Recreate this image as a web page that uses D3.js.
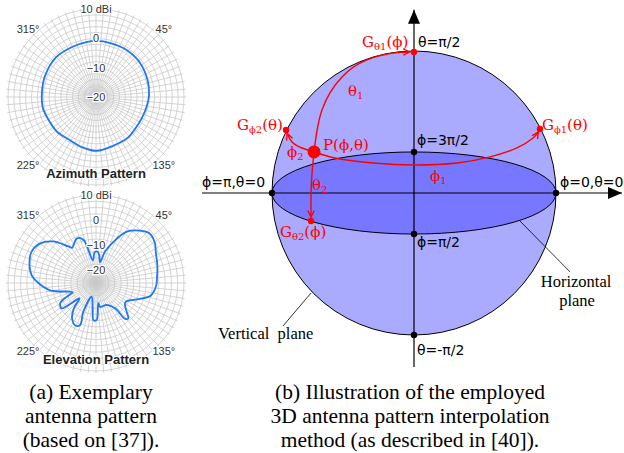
<!DOCTYPE html>
<html>
<head>
<meta charset="utf-8">
<script src="https://cdn.jsdelivr.net/npm/d3@7"></script>
<style>
  body { margin: 0; background: #fff; }
  svg { display: block; }
</style>
</head>
<body>
<svg id="fig" width="624" height="453"></svg>
<script>
// ---- (a) antenna pattern data: angle (deg, clockwise from top) / gain (dBi)
const azimuthAngles = [0, 15, 33, 52, 72, 88, 100, 115, 130, 141, 160, 179, 195, 213, 228, 242, 258, 275, 292, 315, 335, 350];
const azimuthGain   = [-0.9, -1.0, -0.9, -1.0, -1.5, -1.9, -2.4, -2.8, -2.8, -2.4, -2.4, -1.6, -2.2, -2.8, -2.2, -2.1, -1.5, -1.5, -1.2, -0.8, -1.1, -1.0];

const elevationAngles = [1, 6, 11, 16, 23, 31, 40, 47, 56, 62, 75, 83, 92, 100, 104, 110, 114, 119, 124, 130, 135, 138, 141, 143, 154, 170, 173.5, 179, 184, 187.5, 197.6, 203.8, 200.8, 206, 214, 221, 227, 233.6, 241, 246, 248.2, 261, 270, 277, 288, 296, 305, 314, 323, 326, 331, 337, 344, 352, 357];
const elevationGain   = [-12.3, -13.5, -16.6, -12, -7.2, -1.2, 2.2, 4.0, 3.3, 1.9, 0.3, -0.5, -1.0, -2.0, -3.0, -6.5, -8.5, -10.5, -11, -9.7, -7.2, -5.9, -6.8, -12.4, -15.3, -15.4, -16.9, -10.3, -10.2, -14.8, -19.3, -12.5, -7.1, -6.2, -8, -11.5, -16, -8.0, -8.8, -13.3, -15, -6.5, -2.1, 0.8, 2.8, 3.5, 2.3, -1.2, -6.8, -8.1, -7, -5.7, -7.2, -15.9, -13];

const ringValues = [10, 0, -10, -20];
const ringLabels = ["10 dBi", "0", "\u221210", "\u221220"];
const compassAngles = [315, 45, 135, 225];
const compassLabels = ["315°", "45°", "135°", "225°"];

// ---- (b) sphere diagram, in unit-sphere coordinates [u, v]
const blackDots = [[-1, 0], [1, 0], [0, 0.289], [0, -0.289], [0, -1]];
const redDots = [[0, 0.993], [-0.901, 0.444], [0.887, 0.451], [-0.725, -0.197]];
const pointP = [-0.704, 0.289];
const ellipseRy = 0.289;
const arcTheta1 = [[-0.704, 0.289], [-0.648, 0.585], [-0.507, 0.817], [-0.331, 0.937], [-0.15, 0.985], [-0.03, 0.993]];
const arcPhi1 = [[-0.704, 0.289], [-0.521, 0.239], [-0.289, 0.211], [-0.007, 0.197], [0.303, 0.211], [0.535, 0.254], [0.725, 0.317], [0.838, 0.387], [0.876, 0.43]];
const arcPhi2 = [[-0.704, 0.289], [-0.789, 0.317], [-0.859, 0.359], [-0.893, 0.42]];
const arcTheta2 = [[-0.704, 0.289], [-0.718, 0.141], [-0.725, 0], [-0.725, -0.17]];

const blackLabels = [
  { t: "θ=π/2", u: 0.028, v: 1.028 },
  { t: "ϕ=3π/2", u: 0.021, v: 0.338 },
  { t: "ϕ=π,θ=0", u: -1.493, v: 0.042 },
  { t: "ϕ=0,θ=0", u: 1.028, v: 0.042 },
  { t: "ϕ=π/2", u: 0.021, v: -0.38 },
  { t: "θ=-π/2", u: 0.021, v: -1.141 }
];
// [main, subscript, tail]
const redLabels = [
  { parts: ["G", "θ1", "(ϕ)"], u: -0.366, v: 1.028 },
  { parts: ["G", "ϕ2", "(θ)"], u: -1.246, v: 0.444 },
  { parts: ["G", "ϕ1", "(θ)"], u: 0.901, v: 0.444 },
  { parts: ["G", "θ2", "(ϕ)"], u: -0.944, v: -0.31 },
  { parts: ["P(ϕ,θ)", "", ""], u: -0.641, v: 0.303 },
  { parts: ["θ", "1", ""], u: -0.465, v: 0.683 },
  { parts: ["ϕ", "2", ""], u: -0.894, v: 0.254 },
  { parts: ["ϕ", "1", ""], u: 0.113, v: 0.085 },
  { parts: ["θ", "2", ""], u: -0.718, v: 0.021 }
];
const planeLabels = [
  { t: "Horizontal", u: 1.141, v: -0.662, a: "middle" },
  { t: "plane", u: 1.148, v: -0.796, a: "middle" },
  { t: "Vertical  plane", u: -1.38, v: -1.028, a: "start" }
];
const leaders = [[[0.746, -0.197], [1.099, -0.556]], [[-0.725, -0.704], [-0.923, -0.937]]];

const captionA = ["(a) Exemplary", "antenna pattern", "(based on [37])."];
const captionB = ["(b) Illustration of the employed", "3D antenna pattern interpolation", "method (as described in [40])."];

const svg = d3.select("#fig");
const rad = d => d * Math.PI / 180;

// ---------- polar panels
function drawPolar(cy, gMin, ringStep, angles, gains, title) {
  const cx = 96, R = 88;
  const r = d3.scaleLinear().domain([gMin, 10]).range([0, R]);
  const g = svg.append("g").attr("transform", `translate(${cx},${cy})`);

  g.selectAll(".ring").data(d3.range(10, gMin, -ringStep)).join("circle")
    .attr("class", "ring").attr("r", d => r(d))
    .attr("fill", "none").attr("stroke", "#c9c9c9").attr("stroke-width", 0.8);

  g.selectAll(".spoke").data(d3.range(0, 360, 5)).join("line")
    .attr("class", "spoke")
    .attr("x1", 0).attr("y1", 0)
    .attr("x2", d => (R + 2) * Math.sin(rad(d)))
    .attr("y2", d => -(R + 2) * Math.cos(rad(d)))
    .attr("stroke", "#c9c9c9").attr("stroke-width", 0.8);

  const line = d3.lineRadial()
    .angle(d => rad(d[0])).radius(d => r(d[1]))
    .curve(d3.curveCatmullRomClosed.alpha(0.5));
  g.append("path").datum(angles.map((a, i) => [a, gains[i]]))
    .attr("d", line).attr("fill", "none")
    .attr("stroke", "#1f77f4").attr("stroke-width", 1.8);

  g.selectAll(".rl").data(ringValues).join("text")
    .attr("class", "rl")
    .attr("x", 0).attr("y", d => -r(d) + 4)
    .attr("text-anchor", "middle")
    .attr("font-family", "Liberation Sans, Arial, sans-serif").attr("font-size", 11)
    .attr("fill", "#333")
    .attr("stroke", "#fff").attr("stroke-width", 2.5).attr("paint-order", "stroke")
    .text((d, i) => ringLabels[i]);

  g.selectAll(".cl").data(compassAngles).join("text")
    .attr("class", "cl")
    .attr("x", d => 96 * Math.sin(rad(d)))
    .attr("y", d => -96 * Math.cos(rad(d)) + 4)
    .attr("text-anchor", "middle")
    .attr("font-family", "Liberation Sans, Arial, sans-serif").attr("font-size", 11)
    .attr("fill", "#333")
    .attr("stroke", "#fff").attr("stroke-width", 2.5).attr("paint-order", "stroke")
    .text((d, i) => compassLabels[i]);

  g.append("text").attr("x", 0).attr("y", 81)
    .attr("text-anchor", "middle")
    .attr("font-family", "Liberation Sans, Arial, sans-serif").attr("font-size", 13)
    .attr("font-weight", "bold").attr("fill", "#222")
    .attr("stroke", "#fff").attr("stroke-width", 2.5).attr("paint-order", "stroke")
    .text(title);
}

drawPolar(97, -20, 2, azimuthAngles, azimuthGain, "Azimuth Pattern");
drawPolar(283, -25, 2.5, elevationAngles, elevationGain, "Elevation Pattern");

// ---------- sphere diagram
const sx = d3.scaleLinear().domain([-1, 1]).range([272, 556]);
const sy = d3.scaleLinear().domain([-1, 1]).range([335, 51]);
const R = sx(1) - sx(0);

const defs = svg.append("defs");
defs.append("marker").attr("id", "blackArrow")
  .attr("viewBox", "0 0 14 12").attr("refX", 14).attr("refY", 6)
  .attr("markerWidth", 14).attr("markerHeight", 12)
  .attr("markerUnits", "userSpaceOnUse").attr("orient", "auto")
  .append("path").attr("d", "M0,0L14,6L0,12Z").attr("fill", "#000");
defs.append("marker").attr("id", "redArrow")
  .attr("viewBox", "0 0 8 8").attr("refX", 7).attr("refY", 4)
  .attr("markerWidth", 8).attr("markerHeight", 8)
  .attr("markerUnits", "userSpaceOnUse").attr("orient", "auto")
  .append("path").attr("d", "M0.5,0.8L7,4L0.5,7.2").attr("fill", "none")
  .attr("stroke", "#f00").attr("stroke-width", 1.3);

const d = svg.append("g");
d.append("circle").attr("cx", sx(0)).attr("cy", sy(0)).attr("r", R)
  .attr("fill", "#aaaaff").attr("stroke", "#000").attr("stroke-width", 1);
d.append("ellipse").attr("cx", sx(0)).attr("cy", sy(0))
  .attr("rx", R).attr("ry", sy(0) - sy(ellipseRy))
  .attr("fill", "#7777ff").attr("stroke", "#000").attr("stroke-width", 1);

// axes
d.append("line").attr("x1", sx(0)).attr("y1", sy(-1.225)).attr("x2", sx(0)).attr("y2", sy(1.29))
  .attr("stroke", "#000").attr("stroke-width", 1.2).attr("marker-end", "url(#blackArrow)");
d.append("line").attr("x1", sx(-1.493)).attr("y1", sy(0)).attr("x2", sx(1.465)).attr("y2", sy(0))
  .attr("stroke", "#000").attr("stroke-width", 1.2).attr("marker-end", "url(#blackArrow)");

// leader lines
d.selectAll(".leader").data(leaders).join("line")
  .attr("class", "leader")
  .attr("x1", l => sx(l[0][0])).attr("y1", l => sy(l[0][1]))
  .attr("x2", l => sx(l[1][0])).attr("y2", l => sy(l[1][1]))
  .attr("stroke", "#000").attr("stroke-width", 0.8);

// red arcs
const arcLine = d3.line().x(p => sx(p[0])).y(p => sy(p[1])).curve(d3.curveNatural);
d.selectAll(".arc").data([arcTheta1, arcPhi1, arcPhi2, arcTheta2]).join("path")
  .attr("class", "arc").attr("d", arcLine)
  .attr("fill", "none").attr("stroke", "#f00").attr("stroke-width", 1.4)
  .attr("marker-end", "url(#redArrow)");

d.selectAll(".bdot").data(blackDots).join("circle")
  .attr("class", "bdot").attr("cx", p => sx(p[0])).attr("cy", p => sy(p[1])).attr("r", 3.2)
  .attr("fill", "#000");
d.selectAll(".rdot").data(redDots).join("circle")
  .attr("class", "rdot").attr("cx", p => sx(p[0])).attr("cy", p => sy(p[1])).attr("r", 3.2)
  .attr("fill", "#f00");
d.append("circle").attr("cx", sx(pointP[0])).attr("cy", sy(pointP[1])).attr("r", 6.5).attr("fill", "#f00");

d.selectAll(".bl").data(blackLabels).join("text")
  .attr("class", "bl").attr("x", l => sx(l.u)).attr("y", l => sy(l.v))
  .attr("font-family", "DejaVu Sans, sans-serif").attr("font-size", 14).attr("fill", "#000")
  .text(l => l.t);

const rl = d.selectAll(".redl").data(redLabels).join("text")
  .attr("class", "redl").attr("x", l => sx(l.u)).attr("y", l => sy(l.v))
  .attr("font-family", "DejaVu Serif, serif").attr("font-size", 15).attr("fill", "#f00");
rl.append("tspan").text(l => l.parts[0]);
rl.append("tspan").attr("font-size", 10).attr("dy", 3).text(l => l.parts[1]);
rl.append("tspan").attr("dy", -3).text(l => l.parts[2]);

d.selectAll(".pl").data(planeLabels).join("text")
  .attr("class", "pl").attr("x", l => sx(l.u)).attr("y", l => sy(l.v))
  .attr("text-anchor", l => l.a)
  .attr("font-family", "Liberation Serif, Times New Roman, serif").attr("font-size", 16.5)
  .attr("fill", "#000").style("white-space", "pre")
  .text(l => l.t);

// ---------- captions
function caption(lines, cx) {
  svg.append("g").selectAll("text").data(lines).join("text")
    .attr("x", cx).attr("y", (t, i) => 399 + i * 24)
    .attr("text-anchor", "middle")
    .attr("font-family", "Liberation Serif, Times New Roman, serif").attr("font-size", 21.5)
    .attr("fill", "#000").text(t => t);
}
caption(captionA, 91);
caption(captionB, 410);
</script>
</body>
</html>
